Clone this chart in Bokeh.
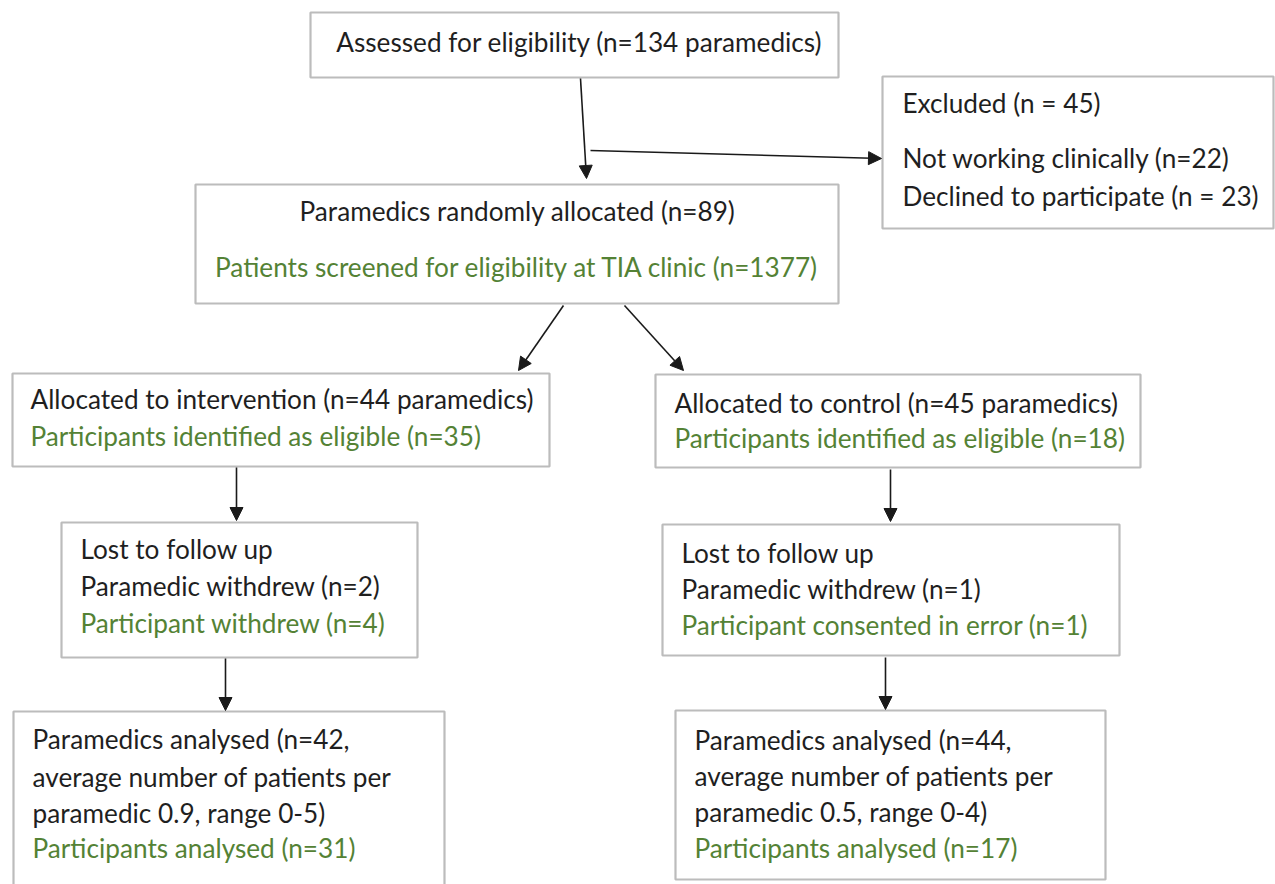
from bokeh.plotting import figure
from bokeh.models import Range1d, Arrow, NormalHead, ColumnDataSource
from bokeh.core.properties import value
from bokeh.embed import file_html
from bokeh.resources import INLINE

# ---- data (labels) ----
box_ids = ["assessed", "excluded", "allocated", "interv", "control",
           "lost_i", "lost_c", "anal_i", "anal_c"]
black_texts = [
    "Assessed for eligibility (n=134 paramedics)",
    "Excluded (n = 45)",
    "Not working clinically (n=22)",
    "Declined to participate (n = 23)",
    "Paramedics randomly allocated (n=89)",
    "Allocated to intervention (n=44 paramedics)",
    "Allocated to control (n=45 paramedics)",
    "Lost to follow up",
    "Paramedic withdrew (n=2)",
    "Lost to follow up",
    "Paramedic withdrew (n=1)",
    "Paramedics analysed (n=42,",
    "average number of patients per",
    "paramedic 0.9, range 0-5)",
    "Paramedics analysed (n=44,",
    "average number of patients per",
    "paramedic 0.5, range 0-4)",
]
green_texts = [
    "Patients screened for eligibility at TIA clinic (n=1377)",
    "Participants identified as eligible (n=35)",
    "Participants identified as eligible (n=18)",
    "Participant withdrew (n=4)",
    "Participant consented in error (n=1)",
    "Participants analysed (n=31)",
    "Participants analysed (n=17)",
]

# ---- layout (page pixel coordinates) ----
box_left = [310, 882, 195, 12, 655, 61, 662, 13, 675]
box_right = [838, 1273, 838, 549, 1140, 417, 1119, 444, 1105]
box_top = [12, 76, 184, 373, 374, 522, 524, 711, 710]
box_bottom = [77, 228, 303, 466, 467, 657, 655, 900, 879]

black_x = [579, 902, 902, 902, 517, 30, 674, 80, 80, 681, 681, 32, 32, 32, 694, 694, 694]
black_y = [41, 102, 157, 195, 210, 398, 402, 548, 585, 552, 588, 738, 776, 812, 739, 775, 811]
black_align = ["center", "left", "left", "left", "center"] + ["left"] * 12

green_x = [517, 30, 674, 80, 681, 32, 694]
green_y = [266, 435, 437, 622, 624, 847, 847]
green_align = ["center"] + ["left"] * 6

arrows = [  # x0, y0, x1, y1
    (580, 78, 586, 178),
    (590, 150, 881, 158),
    (563, 305, 518, 370),
    (624, 305, 683, 370),
    (236, 467, 236, 520),
    (890, 469, 890, 521),
    (225, 658, 225, 710),
    (885, 657, 885, 709),
]

FONT = "Lato"
FSIZE = "26.2px"
BLACK = "#1f1f1f"
GREEN = "#548235"
BORDER = "#bcbcbc"

p = figure(width=1275, height=884, output_backend="svg", toolbar_location=None,
           x_range=Range1d(0, 1275), y_range=Range1d(884, 0),
           min_border=0, min_border_left=0, min_border_right=0,
           min_border_top=0, min_border_bottom=0)
p.axis.visible = False
p.grid.visible = False
p.outline_line_color = None
p.background_fill_color = "white"
p.border_fill_color = "white"

bsrc = ColumnDataSource(dict(left=box_left, right=box_right, top=box_top,
                             bottom=box_bottom, id=box_ids))
p.quad(left="left", right="right", top="top", bottom="bottom", source=bsrc,
       fill_color="white", line_color=BORDER, line_width=2.2)

for (x0, y0, x1, y1) in arrows:
    p.add_layout(Arrow(end=NormalHead(size=13, fill_color="#1a1a1a", line_color="#1a1a1a"),
                       x_start=x0, y_start=y0, x_end=x1, y_end=y1,
                       line_color="#1a1a1a", line_width=1.6))

tsrc = ColumnDataSource(dict(x=black_x, y=black_y, t=black_texts, a=black_align))
p.text(x="x", y="y", text="t", text_align="a", text_baseline="middle",
       text_font=value(FONT), text_font_size=FSIZE, text_color=BLACK, source=tsrc)

gsrc = ColumnDataSource(dict(x=green_x, y=green_y, t=green_texts, a=green_align))
p.text(x="x", y="y", text="t", text_align="a", text_baseline="middle",
       text_font=value(FONT), text_font_size=FSIZE, text_color=GREEN, source=gsrc)

open("out.html", "w").write(file_html(p, INLINE))
